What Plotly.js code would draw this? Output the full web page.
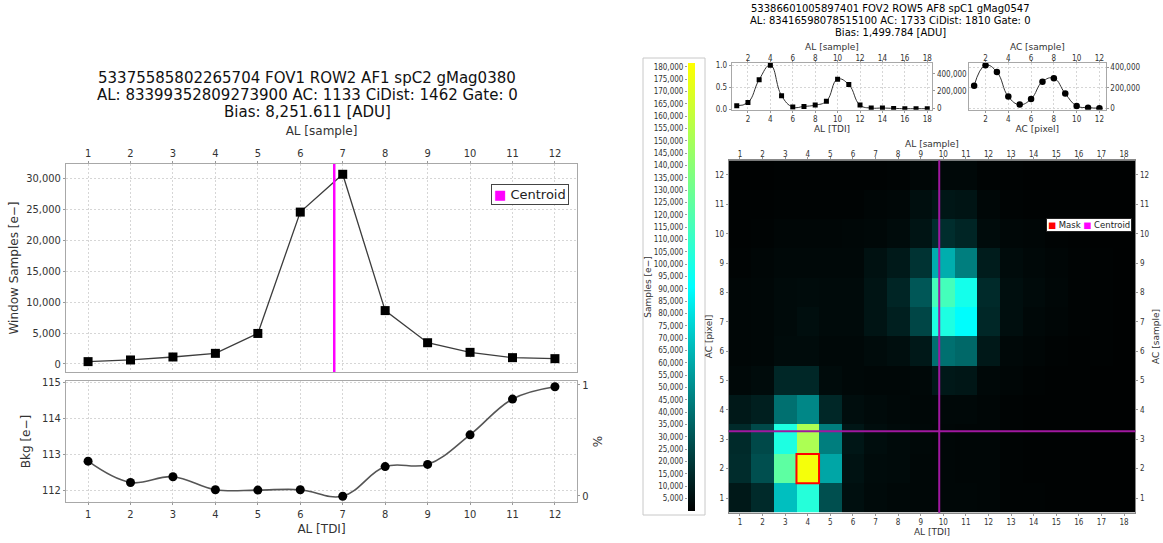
<!DOCTYPE html>
<html><head><meta charset="utf-8">
<script src="https://cdn.plot.ly/plotly-3.0.1.min.js"></script>
<style>html,body{margin:0;padding:0;background:#fff}#chart{width:1163px;height:543px}</style>
</head><body><div id="chart"></div>
<script>
// ---------------- data ----------------
const leftTitleLines = [
  '53375585802265704 FOV1 ROW2 AF1 spC2 gMag0380',
  'AL: 83399352809273900 AC: 1133 CiDist: 1462 Gate: 0',
  'Bias: 8,251.611 [ADU]'
];
const rightTitleLines = [
  '53386601005897401 FOV2 ROW5 AF8 spC1 gMag0547',
  'AL: 83416598078515100 AC: 1733 CiDist: 1810 Gate: 0',
  'Bias: 1,499.784 [ADU]'
];
const alTDI = [1,2,3,4,5,6,7,8,9,10,11,12];
const windowSamples = [375,643,1125,1714,4928,24530,30640,8620,3430,1875,1018,857];
const bkgValues = [112.81,112.22,112.38,112.02,112.01,112.02,111.84,112.66,112.72,113.54,114.53,114.87];
const centroidAL = 6.8;

const profAL = [1,2,3,4,5,6,7,8,9,10,11,12,13,14,15,16,17,18];
const profALNorm = [0.076,0.15,0.67,1.0,0.305,0.046,0.06,0.09,0.18,0.68,0.557,0.09,0.023,0.023,0.015,0.008,0.008,0.008];
const profAC = [1,2,3,4,5,6,7,8,9,10,11,12];
const profACSum = [221000,420000,354000,114000,36000,91000,260000,293000,143000,23000,6000,1000];

const heatAL = [1,2,3,4,5,6,7,8,9,10,11,12,13,14,15,16,17,18];
const heatAC = [1,2,3,4,5,6,7,8,9,10,11,12];
const heatZ = [
  [8500,15000,68000,104000,28000,5500,3500,3000,2500,2500,2500,2000,1500,1500,1200,1000,800,800],
  [15500,28000,124000,178000,59000,6500,4000,3500,2500,2500,2000,2000,1500,1200,1000,1000,800,800],
  [15000,26000,101000,152000,45000,8000,4500,3500,3000,2500,2000,2000,1500,1200,1000,1000,800,800],
  [8500,11000,40000,48000,14000,4500,3500,3000,2500,3000,3000,2000,1500,1200,1000,1000,800,800],
  [3000,4000,14000,14000,4000,3000,2500,2500,3000,8500,8000,3000,2000,1500,1200,1000,800,800],
  [2000,2500,4000,4000,3000,3000,4000,5000,8500,40000,37000,8500,3000,2000,1500,1200,1000,800],
  [2000,2500,3500,5000,3500,3500,7000,11000,25000,101000,90000,14000,5000,3000,2000,1500,1000,800],
  [2000,2500,3500,4000,3500,3500,7000,13000,31000,115000,98000,15000,5000,3500,2500,1500,1000,800],
  [1500,2000,3000,3000,3000,3000,6000,9000,18000,62000,45000,10000,4000,3000,2000,1500,1000,800],
  [1200,1500,2000,2000,2000,2500,3000,4000,7000,16000,13000,4000,2500,2000,1500,1200,800,800],
  [1000,1000,1500,1500,1500,1500,2000,2500,5000,8000,7000,2500,1500,1200,1000,1000,800,800],
  [800,800,1000,1000,1000,1000,1200,1500,2000,3000,3000,1500,1000,800,800,800,800,800]
];
const heatCentroidAL = 9.82;
const heatCentroidAC = 3.27;
const maskAL = 4, maskAC = 2;

const leftXTicks = [1,2,3,4,5,6,7,8,9,10,11,12];
const leftYTicks = [0,5000,10000,15000,20000,25000,30000];
const bkgTicks = [112,113,114,115];
const pctTicks = [0,1];
const profALTicks = [2,4,6,8,10,12,14,16,18];
const profACTicks = [2,4,6,8,10,12];
const profNormTicks = [0,0.5,1.0];
const profSumTicks = [0,200000,400000];
const heatXTicks = heatAL;
const heatYTicks = heatAC;
const colorbarTicks = [5000,10000,15000,20000,25000,30000,35000,40000,45000,50000,55000,60000,
  65000,70000,75000,80000,85000,90000,95000,100000,105000,110000,115000,120000,125000,130000,
  135000,140000,145000,150000,155000,160000,165000,170000,175000,180000];

// ---------------- helpers ----------------
const W = 1163, H = 543;
const px = (a, b) => [a / W, b / W];
const py = (top, bottom) => [1 - bottom / H, 1 - top / H];
const SANS = 'DejaVu Sans, Liberation Sans, sans-serif';
const COND = 'DejaVu Sans Condensed, DejaVu Sans, sans-serif';

function ax(extra) {
  return Object.assign({
    showgrid: true, gridcolor: '#d6d6d6', griddash: '2px,2px', gridwidth: 1,
    showline: true, linecolor: '#a8a8a8', linewidth: 1, mirror: true,
    ticks: 'outside', ticklen: 2, tickcolor: '#999',
    zeroline: false, fixedrange: true, tickmode: 'array',
    tickfont: {family: COND, size: 11, color: '#333'}
  }, extra);
}
function ovl(extra) {
  return Object.assign({
    showgrid: false, showline: false, zeroline: false, fixedrange: true,
    ticks: 'outside', ticklen: 2, tickcolor: '#999', tickmode: 'array',
    tickfont: {family: COND, size: 11, color: '#333'}
  }, extra);
}
const t12 = {family: SANS, size: 12, color: '#333'};
const t9 = {family: SANS, size: 9, color: '#333'};
const f8 = {family: COND, size: 8, color: '#333'};

// axis-only carrier traces (no data) so that secondary axes get drawn
const carrier = (xa, ya) => ({type: 'scatter', x: [], y: [], xaxis: xa, yaxis: ya, mode: 'markers', hoverinfo: 'skip', showlegend: false});

// ---------------- traces ----------------
const traces = [
  {type: 'scatter', x: alTDI, y: windowSamples, xaxis: 'x', yaxis: 'y', mode: 'lines+markers',
   line: {color: '#3c3c3c', width: 1.3}, marker: {symbol: 'square', size: 9, color: '#000'}, hoverinfo: 'skip'},
  {type: 'scatter', x: alTDI, y: bkgValues, xaxis: 'x2', yaxis: 'y2', mode: 'lines+markers',
   line: {color: '#555', width: 1.6, shape: 'spline', smoothing: 1.1}, marker: {symbol: 'circle', size: 9, color: '#000'}, hoverinfo: 'skip'},
  {type: 'scatter', x: profAL, y: profALNorm, xaxis: 'x3', yaxis: 'y4', mode: 'lines+markers',
   line: {color: '#333', width: 1, shape: 'spline', smoothing: 1.3}, marker: {symbol: 'square', size: 5, color: '#000'}, hoverinfo: 'skip'},
  {type: 'scatter', x: profAC, y: profACSum, xaxis: 'x5', yaxis: 'y6', mode: 'lines+markers',
   line: {color: '#333', width: 1, shape: 'spline', smoothing: 1.3}, marker: {symbol: 'circle', size: 6.5, color: '#000'}, hoverinfo: 'skip'},
  {type: 'heatmap', x: heatAL, y: heatAC, z: heatZ, xaxis: 'x7', yaxis: 'y7', zsmooth: false,
   zmin: 0, zmax: 181500, hoverinfo: 'skip',
   colorscale: [[0, '#000000'], [0.5, '#00ffff'], [1, '#ffff00']],
   showscale: true,
   colorbar: {x: 688 / W, xanchor: 'left', xpad: 0, y: 1 - 63 / H, yanchor: 'top', ypad: 0,
              thickness: 7, thicknessmode: 'pixels', len: 448, lenmode: 'pixels',
              showticklabels: false, ticks: '', outlinewidth: 0}},
  carrier('x2', 'y3'), carrier('x4', 'y4'), carrier('x3', 'y5'), carrier('x6', 'y6'),
  carrier('x8', 'y7'), carrier('x7', 'y8'), carrier('x9', 'y9')
];

// ---------------- layout ----------------
const annotations = [];
leftTitleLines.forEach((s, i) => annotations.push({
  text: s, xref: 'paper', yref: 'paper', x: 307 / W, y: 1 - (78 + 17 * i) / H,
  xanchor: 'center', yanchor: 'middle', showarrow: false, font: {family: SANS, size: 15, color: '#111'}
}));
rightTitleLines.forEach((s, i) => annotations.push({
  text: s, xref: 'paper', yref: 'paper', x: 890 / W, y: 1 - (8.5 + 12 * i) / H,
  xanchor: 'center', yanchor: 'middle', showarrow: false, font: {family: SANS, size: 10, color: '#000'}
}));
annotations.push({
  text: '<span style="color:#ff00ff">■</span> Centroid', xref: 'paper', yref: 'paper',
  x: 529.5 / W, y: 1 - 194.5 / H, xanchor: 'center', yanchor: 'middle', showarrow: false,
  font: {family: SANS, size: 13, color: '#222'}, bgcolor: '#fff', bordercolor: '#444', borderwidth: 1, borderpad: 2
});
annotations.push({
  text: '<span style="color:#ff0000">■</span> Mask <span style="color:#ff00ff">■</span> Centroid', xref: 'paper', yref: 'paper',
  x: 1088.5 / W, y: 1 - 224.5 / H, xanchor: 'center', yanchor: 'middle', showarrow: false,
  font: {family: SANS, size: 8.5, color: '#222'}, bgcolor: '#fff', bordercolor: '#222', borderwidth: 1, borderpad: 1
});

const shapes = [
  {type: 'line', xref: 'x', yref: 'y domain', x0: centroidAL, x1: centroidAL, y0: 0, y1: 1,
   line: {color: '#ff00ff', width: 2.5}},
  {type: 'line', xref: 'x7', yref: 'y7 domain', x0: heatCentroidAL, x1: heatCentroidAL, y0: 0, y1: 1,
   line: {color: '#a018a0', width: 2}},
  {type: 'line', xref: 'x7 domain', yref: 'y7', x0: 0, x1: 1, y0: heatCentroidAC, y1: heatCentroidAC,
   line: {color: '#a018a0', width: 2}},
  {type: 'rect', xref: 'x7', yref: 'y7', x0: maskAL - 0.5, x1: maskAL + 0.5, y0: maskAC - 0.5, y1: maskAC + 0.5,
   line: {color: '#ff0000', width: 2}},
  {type: 'rect', xref: 'paper', yref: 'paper', x0: 643 / W, x1: 705 / W, y0: 1 - 515 / H, y1: 1 - 58 / H,
   line: {color: '#c8c8c8', width: 1}, layer: 'below'}
];

const layout = {
  width: W, height: H, margin: {l: 0, r: 0, t: 0, b: 0, autoexpand: false},
  paper_bgcolor: '#fff', plot_bgcolor: '#fff', showlegend: false,
  font: {family: SANS, color: '#333'},
  annotations: annotations, shapes: shapes,
  // left top plot
  xaxis: ax({domain: px(66, 577), anchor: 'y', side: 'top', range: [0.48, 12.52], tickvals: leftXTicks,
             title: {text: 'AL [sample]', font: t12, standoff: 8}}),
  yaxis: ax({domain: py(164, 372), anchor: 'x', range: [-1300, 32300], tickvals: leftYTicks, tickformat: ',',
             title: {text: 'Window Samples [e\u2212]', font: t12, standoff: 4}}),
  // left bottom plot
  xaxis2: ax({domain: px(66, 577), anchor: 'y2', range: [0.48, 12.52], tickvals: leftXTicks,
              title: {text: 'AL [TDI]', font: t12, standoff: 4}}),
  yaxis2: ax({domain: py(381, 502), anchor: 'x2', range: [111.68, 115.03], tickvals: bkgTicks,
              title: {text: 'Bkg [e\u2212]', font: t12, standoff: 8}}),
  yaxis3: ovl({overlaying: 'y2', anchor: 'x2', side: 'right', range: [-0.057, 1.036], tickvals: pctTicks,
               title: {text: '%', font: t12, standoff: 6}}),
  // AL profile
  xaxis3: ax({domain: px(731.7, 932.3), anchor: 'y4', range: [0.55, 18.45], tickvals: profALTicks, tickfont: f8,
              title: {text: 'AL [TDI]', font: t9, standoff: 2}}),
  xaxis4: ovl({overlaying: 'x3', anchor: 'y4', side: 'top', range: [0.55, 18.45], tickvals: profALTicks, tickfont: f8,
               ticklabelstandoff: -4, title: {text: 'AL [sample]', font: t9, standoff: 1}}),
  yaxis4: ax({domain: py(63, 109.7), anchor: 'x3', range: [-0.015, 1.05], tickvals: profNormTicks, tickformat: '.1f', tickfont: f8}),
  yaxis5: ovl({overlaying: 'y4', anchor: 'x3', side: 'right', range: [-20000, 529000], tickvals: profSumTicks, tickformat: ',', tickfont: f8}),
  // AC profile
  xaxis5: ax({domain: px(969, 1105.7), anchor: 'y6', range: [0.55, 12.55], tickvals: profACTicks, tickfont: f8,
              title: {text: 'AC [pixel]', font: t9, standoff: 2}}),
  xaxis6: ovl({overlaying: 'x5', anchor: 'y6', side: 'top', range: [0.55, 12.55], tickvals: profACTicks, tickfont: f8,
               ticklabelstandoff: -4, title: {text: 'AC [sample]', font: t9, standoff: 1}}),
  yaxis6: ax({domain: py(63, 109.7), anchor: 'x5', side: 'right', range: [-14000, 442000], tickvals: profSumTicks, tickformat: ',', tickfont: f8}),
  // heatmap
  xaxis7: ax({domain: px(728.7, 1135.3), anchor: 'y7', range: [0.5, 18.5], tickvals: heatXTicks, tickfont: f8,
              showgrid: false, linecolor: '#888', title: {text: 'AL [TDI]', font: t9, standoff: 2}}),
  xaxis8: ovl({overlaying: 'x7', anchor: 'y7', side: 'top', range: [0.5, 18.5], tickvals: heatXTicks, tickfont: f8,
               ticklabelstandoff: -3, title: {text: 'AL [sample]', font: t9, standoff: 0}}),
  yaxis7: ax({domain: py(160.3, 512.7), anchor: 'x7', range: [0.5, 12.5], tickvals: heatYTicks, tickfont: f8,
              showgrid: false, linecolor: '#888', title: {text: 'AC [pixel]', font: t9, standoff: 0}}),
  yaxis8: ovl({overlaying: 'y7', anchor: 'x7', side: 'right', range: [0.5, 12.5], tickvals: heatYTicks, tickfont: f8,
               title: {text: 'AC [sample]', font: t9, standoff: 4}}),
  // colorbar label axis
  xaxis9: {domain: px(688, 695), anchor: 'y9', visible: false, range: [0, 1], fixedrange: true},
  yaxis9: {domain: py(63, 511), anchor: 'x9', side: 'left', range: [0, 181500], tickmode: 'array', tickvals: colorbarTicks,
           tickformat: ',', ticks: 'outside', ticklen: 2, tickcolor: '#999', showgrid: false, zeroline: false, showline: false,
           fixedrange: true, tickfont: f8, title: {text: 'Samples [e\u2212]', font: t9, standoff: 0}}
};

Plotly.newPlot('chart', traces, layout, {staticPlot: true, displayModeBar: false});
</script>
</body></html>
